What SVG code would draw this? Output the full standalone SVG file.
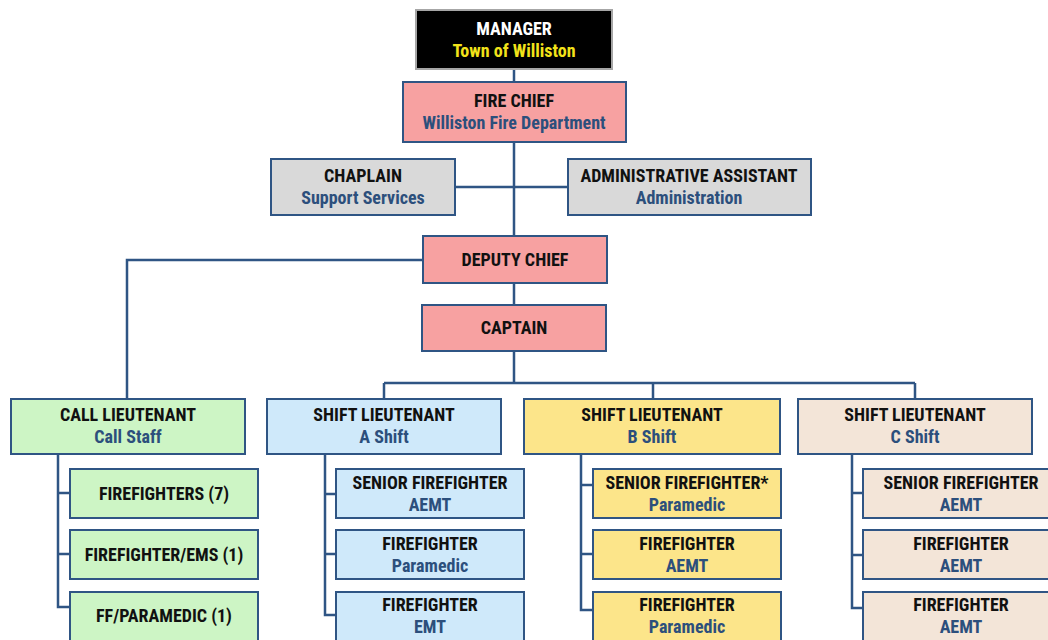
<svg xmlns="http://www.w3.org/2000/svg" width="1048" height="640" viewBox="0 0 1048 640">
<style>
.b{stroke:#2F5584;stroke-width:2}
.t{font-family:"Liberation Sans Narrow","Roboto Condensed","Liberation Sans",Arial,sans-serif;font-weight:bold;font-size:18px;text-anchor:middle;fill:#111}
.s{fill:#2C4F7C}
.pink{fill:#F7A1A1}.gray{fill:#D9D9D9}.green{fill:#CDF5C5}.blue{fill:#CFE9FA}.yellow{fill:#FCE58A}.beige{fill:#F3E5D8}
#conn path{fill:none;stroke:#2F5584;stroke-width:2.5}
</style>
<rect width="1048" height="640" fill="#fff"/>
<g id="conn">
<path d="M514 69V236M455 187H568M514 283V305M423 260H127V399M514 351V383M384 383H915M384 383V399M653 383V399M915 383V399"/>
<path d="M58 454V607H70M58 493H70M58 554H70"/>
<path d="M325 454V615H336M325 494H336M325 554H336"/>
<path d="M581 454V610H593M581 485H593M581 554H593"/>
<path d="M852 454V608H863M852 493H863M852 555H863"/>
</g>
<g id="manager"><rect x="416" y="10" width="196" height="59" fill="#000" stroke="#A6A6A6" stroke-width="2"/><text class="t" x="514" y="35" style="fill:#fff">MANAGER</text><text class="t" x="514" y="57" style="fill:#F2E31A">Town of Williston</text></g>
<g id="firechief"><rect class="b pink" x="403" y="82" width="223" height="60"/><text class="t" x="514" y="107">FIRE CHIEF</text><text class="t s" x="514" y="129">Williston Fire Department</text></g>
<g id="chaplain"><rect class="b gray" x="271" y="159" width="184" height="56"/><text class="t" x="363" y="182">CHAPLAIN</text><text class="t s" x="363" y="204">Support Services</text></g>
<g id="admin"><rect class="b gray" x="568" y="159" width="243" height="56"/><text class="t" x="689" y="182">ADMINISTRATIVE ASSISTANT</text><text class="t s" x="689" y="204">Administration</text></g>
<g id="deputy"><rect class="b pink" x="423" y="236" width="184" height="47"/><text class="t" x="515" y="266">DEPUTY CHIEF</text></g>
<g id="captain"><rect class="b pink" x="422" y="305" width="184" height="46"/><text class="t" x="514" y="334">CAPTAIN</text></g>
<g id="calllt"><rect class="b green" x="11" y="399" width="234" height="55"/><text class="t" x="128" y="421">CALL LIEUTENANT</text><text class="t s" x="128" y="443">Call Staff</text></g>
<g id="ashift"><rect class="b blue" x="267" y="399" width="234" height="55"/><text class="t" x="384" y="421">SHIFT LIEUTENANT</text><text class="t s" x="384" y="443">A Shift</text></g>
<g id="bshift"><rect class="b yellow" x="524" y="399" width="256" height="55"/><text class="t" x="652" y="421">SHIFT LIEUTENANT</text><text class="t s" x="652" y="443">B Shift</text></g>
<g id="cshift"><rect class="b beige" x="798" y="399" width="234" height="55"/><text class="t" x="915" y="421">SHIFT LIEUTENANT</text><text class="t s" x="915" y="443">C Shift</text></g>
<g id="call1"><rect class="b green" x="70" y="469" width="188" height="49"/><text class="t" x="164" y="500">FIREFIGHTERS (7)</text></g>
<g id="call2"><rect class="b green" x="70" y="530" width="188" height="49"/><text class="t" x="164" y="561">FIREFIGHTER/EMS (1)</text></g>
<g id="call3"><rect class="b green" x="70" y="592" width="188" height="49"/><text class="t" x="164" y="622">FF/PARAMEDIC (1)</text></g>
<g id="a1"><rect class="b blue" x="336" y="469" width="188" height="49"/><text class="t" x="430" y="489">SENIOR FIREFIGHTER</text><text class="t s" x="430" y="511">AEMT</text></g>
<g id="a2"><rect class="b blue" x="336" y="530" width="188" height="49"/><text class="t" x="430" y="550">FIREFIGHTER</text><text class="t s" x="430" y="572">Paramedic</text></g>
<g id="a3"><rect class="b blue" x="336" y="592" width="188" height="49"/><text class="t" x="430" y="611">FIREFIGHTER</text><text class="t s" x="430" y="633">EMT</text></g>
<g id="b1"><rect class="b yellow" x="593" y="469" width="188" height="49"/><text class="t" x="687" y="489">SENIOR FIREFIGHTER*</text><text class="t s" x="687" y="511">Paramedic</text></g>
<g id="b2"><rect class="b yellow" x="593" y="530" width="188" height="49"/><text class="t" x="687" y="550">FIREFIGHTER</text><text class="t s" x="687" y="572">AEMT</text></g>
<g id="b3"><rect class="b yellow" x="593" y="592" width="188" height="49"/><text class="t" x="687" y="611">FIREFIGHTER</text><text class="t s" x="687" y="633">Paramedic</text></g>
<g id="c1"><rect class="b beige" x="863" y="469" width="188" height="49"/><text class="t" x="961" y="489">SENIOR FIREFIGHTER</text><text class="t s" x="961" y="511">AEMT</text></g>
<g id="c2"><rect class="b beige" x="863" y="530" width="188" height="49"/><text class="t" x="961" y="550">FIREFIGHTER</text><text class="t s" x="961" y="572">AEMT</text></g>
<g id="c3"><rect class="b beige" x="863" y="592" width="188" height="49"/><text class="t" x="961" y="611">FIREFIGHTER</text><text class="t s" x="961" y="633">AEMT</text></g>
</svg>
